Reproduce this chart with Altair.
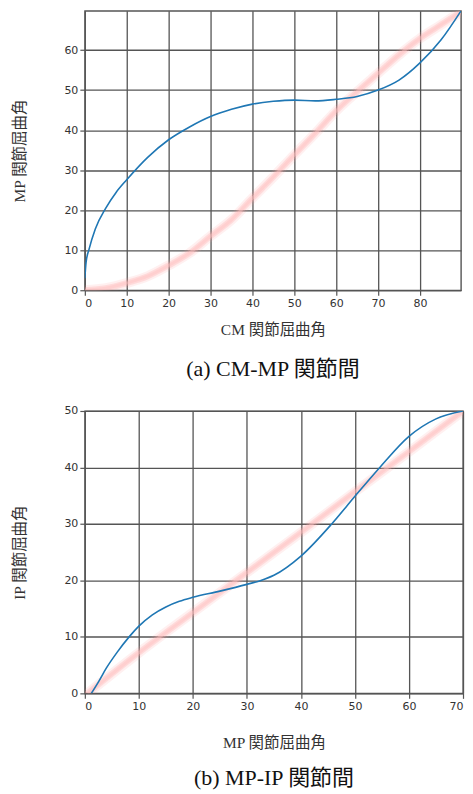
import altair as alt
import pandas as pd

# ---- (a) CM-MP ----
a_blue_x = [0, 0.3, 1, 2.5, 5, 7.5, 10, 15, 20, 25, 30, 35, 40, 45, 50, 55, 60, 65, 70, 75, 80, 85, 89.8]
a_blue_y = [3, 7, 10.2, 15.3, 20.5, 24.5, 27.6, 33.2, 37.6, 40.8, 43.4, 45.2, 46.5, 47.2, 47.5, 47.3, 47.7, 48.4, 50.0, 52.5, 56.8, 62.5, 69.8]
a_red_x = [0, 5, 10, 15, 20, 25, 30, 35, 40, 45, 50, 55, 60, 65, 70, 75, 80, 85, 89.8]
a_red_y = [0, 0.5, 1.8, 3.5, 6.2, 9.3, 13.5, 17.6, 23.0, 28.3, 33.8, 39.2, 44.8, 49.6, 54.2, 58.8, 62.9, 66.3, 69.6]
a_xticks = [0, 10, 20, 30, 40, 50, 60, 70, 80]
a_yticks = [0, 10, 20, 30, 40, 50, 60]

# ---- (b) MP-IP ----
b_blue_x = [1.2, 2.5, 4, 6, 8.2, 10, 12.5, 15, 17.5, 20, 25, 30, 32.6, 35, 40, 45.7, 50, 54.6, 60, 65, 70]
b_blue_y = [0, 2.0, 4.5, 7.3, 10.0, 11.9, 13.9, 15.3, 16.3, 17.0, 18.1, 19.3, 20.0, 20.9, 24.3, 30.0, 34.9, 40.0, 45.5, 48.6, 50.0]
b_red_x = [0.5, 10, 20, 30, 40, 50, 60, 70]
b_red_y = [0, 7.2, 14.3, 21.4, 28.5, 35.7, 42.8, 50.0]
b_xticks = [0, 10, 20, 30, 40, 50, 60, 70]
b_yticks = [0, 10, 20, 30, 40, 50]

SERIF = 'Liberation Serif, "Noto Sans CJK JP"'


def panel(bx, by, rx, ry, xdom, ydom, xticks, yticks, xtitle, ytitle, caption,
          w, h, xpad, capoff):
    blue = pd.DataFrame({"x": bx, "y": by})
    red = pd.DataFrame({"x": rx, "y": ry})
    X = alt.X("x:Q", scale=alt.Scale(domain=xdom, nice=False, zero=False),
              axis=alt.Axis(values=xticks, title=xtitle, titlePadding=xpad,
                            titleFont=SERIF, titleFontSize=15.5, titleFontWeight="normal",
                            titleColor="#333"))
    Y = alt.Y("y:Q", scale=alt.Scale(domain=ydom, nice=False, zero=False),
              axis=alt.Axis(values=yticks, title=ytitle, titlePadding=36,
                            titleFont=SERIF, titleFontSize=15.5, titleFontWeight="normal",
                            titleColor="#333"))
    glow = alt.Chart(red).mark_line(color="#ff9a9a", strokeWidth=10, opacity=0.15,
                                    interpolate="monotone", strokeCap="round",
                                    strokeJoin="round", clip=True).encode(x=X, y=Y)
    mid = alt.Chart(red).mark_line(color="#ffa8a8", strokeWidth=6, opacity=0.3,
                                   interpolate="monotone", strokeCap="round",
                                   strokeJoin="round", clip=True).encode(x=X, y=Y)
    core = alt.Chart(red).mark_line(color="#ffc0c0", strokeWidth=3, opacity=0.45,
                                    interpolate="monotone", strokeJoin="round",
                                    clip=True).encode(x=X, y=Y)
    bl = alt.Chart(blue).mark_line(color="#1f77b4", strokeWidth=1.6,
                                   interpolate="monotone", strokeJoin="round",
                                   clip=True).encode(x=X, y=Y)
    return alt.layer(glow, mid, core, bl).properties(
        width=w, height=h,
        title=alt.TitleParams(caption, orient="bottom", font=SERIF, fontSize=22,
                              fontWeight="normal", color="#111", offset=capoff))


pa = panel(a_blue_x, a_blue_y, a_red_x, a_red_y, [0, 89.8], [0, 69.8], a_xticks, a_yticks,
           "CM 関節屈曲角", "MP 関節屈曲角", "(a) CM-MP 関節間", 377, 280, 14, 21)
pb = panel(b_blue_x, b_blue_y, b_red_x, b_red_y, [0, 70], [0, 50], b_xticks, b_yticks,
           "MP 関節屈曲角", "IP 関節屈曲角", "(b) MP-IP 関節間", 379, 283, 24, 17)

chart = alt.vconcat(pa, pb, spacing=23).properties(
    padding={"left": 4, "top": 1, "right": 0, "bottom": 0}
).configure_view(stroke="#555", strokeWidth=1.4).configure_axis(
    domain=False, grid=True, gridColor="#555", gridWidth=1.3,
    tickColor="#555", tickSize=5, tickWidth=1.2,
    labelFont="DejaVu Sans", labelFontSize=11, labelColor="#333", labelPadding=2
).configure_concat(spacing=23)

chart.save("out.html", embed_options={"renderer": "svg", "actions": False})
